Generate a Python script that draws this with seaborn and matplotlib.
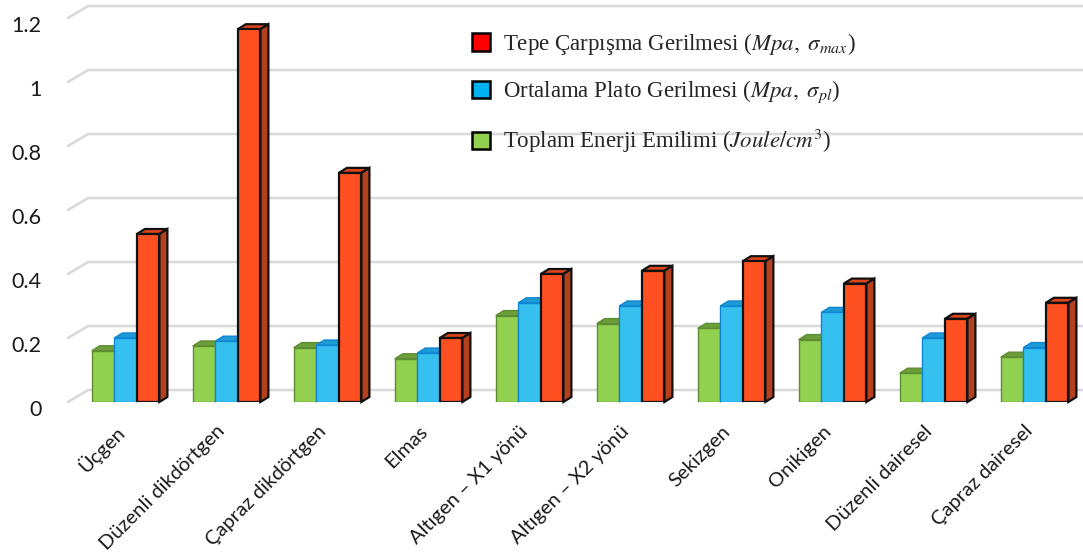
import numpy as np
import pandas as pd
import matplotlib
matplotlib.use("Agg")
import matplotlib.pyplot as plt
from matplotlib.patches import Polygon, Patch
from matplotlib.lines import Line2D
from matplotlib.transforms import IdentityTransform, ScaledTranslation
import seaborn as sns

# ---- data ----
categories = ["Üçgen", "Düzenli dikdörtgen", "Çapraz dikdörtgen", "Elmas",
              "Altıgen – X1 yönü", "Altıgen – X2 yönü", "Sekizgen", "Onikigen",
              "Düzenli dairesel", "Çapraz dairesel"]
energy = [0.16, 0.175, 0.17, 0.135, 0.27, 0.245, 0.23, 0.195, 0.09, 0.14]
plateau = [0.20, 0.19, 0.178, 0.153, 0.31, 0.30, 0.30, 0.28, 0.20, 0.17]
peak = [0.525, 1.165, 0.716, 0.20, 0.40, 0.41, 0.44, 0.37, 0.26, 0.31]
series_names = ["energy", "plateau", "peak"]
legend_labels = [r"Tepe Çarpışma Gerilmesi ($Mpa,\ \sigma_{max}$)",
                 r"Ortalama Plato Gerilmesi ($Mpa,\ \sigma_{pl}$)",
                 r"Toplam Enerji Emilimi ($Joule/cm^3$)"]
yticks = [0, 0.2, 0.4, 0.6, 0.8, 1.0, 1.2]
ytick_labels = ["0", "0.2", "0.4", "0.6", "0.8", "1", "1.2"]

df = pd.DataFrame({
    "category": np.repeat(categories, 3),
    "series": series_names * len(categories),
    "value": np.ravel(np.column_stack([energy, plateau, peak])),
})

# ---- style ----
sns.set_theme(style="white")
plt.rcParams["font.family"] = ["Lato", "DejaVu Sans"]
plt.rcParams["mathtext.fontset"] = "stix"

front = {"energy": "#92D050", "plateau": "#35C0F0", "peak": "#FF5022"}
top = {"energy": "#6C9E3A", "plateau": "#1E9AD6", "peak": "#E0441C"}
side = {"energy": "#5E8C31", "plateau": "#1282C8", "peak": "#B5401E"}
edge = {"energy": "#5E8C31", "plateau": "#0E86D4", "peak": "#111111"}
edge_w = {"energy": 1.0, "plateau": 1.0, "peak": 1.6}

W, H, DPI = 1083, 560, 100
fig = plt.figure(figsize=(W / DPI, H / DPI), dpi=DPI)
ax_left, ax_right, ax_bottom, ax_top = 68, 1083, 402, 18
ax = fig.add_axes([ax_left / W, 1 - ax_bottom / H,
                   (ax_right - ax_left) / W, (ax_bottom - ax_top) / H])

sns.barplot(data=df, x="category", y="value", hue="series",
            hue_order=series_names, palette=front, width=0.67,
            saturation=1, legend=False, ax=ax, order=categories)

slot = 101.0  # px per category
ax.set_xlim(-0.57, -0.57 + (ax_right - ax_left) / slot)
ax.set_ylim(0, 1.2)
for s in ax.spines.values():
    s.set_visible(False)
ax.grid(False)

fig.canvas.draw()

# back-wall gridlines with short slanted floor segments
depth_x, depth_y = 20, 12
for v in yticks:
    x0, y0 = ax.transData.transform((ax.get_xlim()[0], v))
    ln = Line2D([x0, x0 + depth_x, W + 5], [y0, y0 + depth_y, y0 + depth_y],
                transform=IdentityTransform(), color="#D9D9D9", lw=1.8,
                zorder=0.5, clip_on=False)
    ax.add_line(ln)

# give bars a 3-D look: top cap and right side face
bar_dx, bar_dy = 8, 5
for k, name in enumerate(series_names):
    container = ax.containers[k]
    for p in container.patches:
        p.set_facecolor(front[name])
        p.set_edgecolor(edge[name])
        p.set_linewidth(edge_w[name])
        p.set_zorder(3 + 2 * k)
        x, y = p.get_x(), p.get_y()
        w, h = p.get_width(), p.get_height()
        (xa, ya) = ax.transData.transform((x, y))
        (xb, yb) = ax.transData.transform((x + w, y + h))
        cap = Polygon([(xa, yb), (xb, yb), (xb + bar_dx, yb + bar_dy),
                       (xa + bar_dx, yb + bar_dy)], closed=True,
                      transform=IdentityTransform(), facecolor=top[name],
                      edgecolor=edge[name], lw=edge_w[name],
                      zorder=2.5 + 2 * k, clip_on=False)
        wall = Polygon([(xb, ya), (xb + bar_dx, ya + bar_dy),
                        (xb + bar_dx, yb + bar_dy), (xb, yb)], closed=True,
                       transform=IdentityTransform(), facecolor=side[name],
                       edgecolor=edge[name], lw=edge_w[name],
                       zorder=2.5 + 2 * k, clip_on=False)
        ax.add_patch(cap)
        ax.add_patch(wall)

# axes text
ax.set_xlabel("")
ax.set_ylabel("")
ax.set_yticks(yticks)
ax.set_yticklabels(ytick_labels, fontsize=15.5, color="#1a1a1a")
ax.tick_params(axis="y", length=0, pad=19)
ydown = ScaledTranslation(0, -4 / 72, fig.dpi_scale_trans)
for lab in ax.get_yticklabels():
    lab.set_transform(lab.get_transform() + ydown)
ax.set_xticks(range(len(categories)))
ax.set_xticklabels(categories, rotation=45, ha="right", va="center",
                   rotation_mode="anchor", fontsize=14.5, color="#1a1a1a")
ax.tick_params(axis="x", length=0, pad=19)
shift = ScaledTranslation(-3 / 72, 0, fig.dpi_scale_trans)
for lab in ax.get_xticklabels():
    lab.set_transform(lab.get_transform() + shift)

# legend
handles = [Patch(facecolor=c, edgecolor="black", lw=1.8)
           for c in ["#FF0000", "#00B0F0", "#92D050"]]
leg = fig.legend(handles, legend_labels, loc="upper left",
                 bbox_to_anchor=(472 / W, 1 - 31 / H), frameon=False,
                 prop={"family": "Liberation Serif", "size": 16.5},
                 handlelength=0.8, handleheight=0.8, handletextpad=0.55,
                 labelspacing=0.95, borderaxespad=0, borderpad=0)

fig.savefig("out.png", dpi=DPI)
